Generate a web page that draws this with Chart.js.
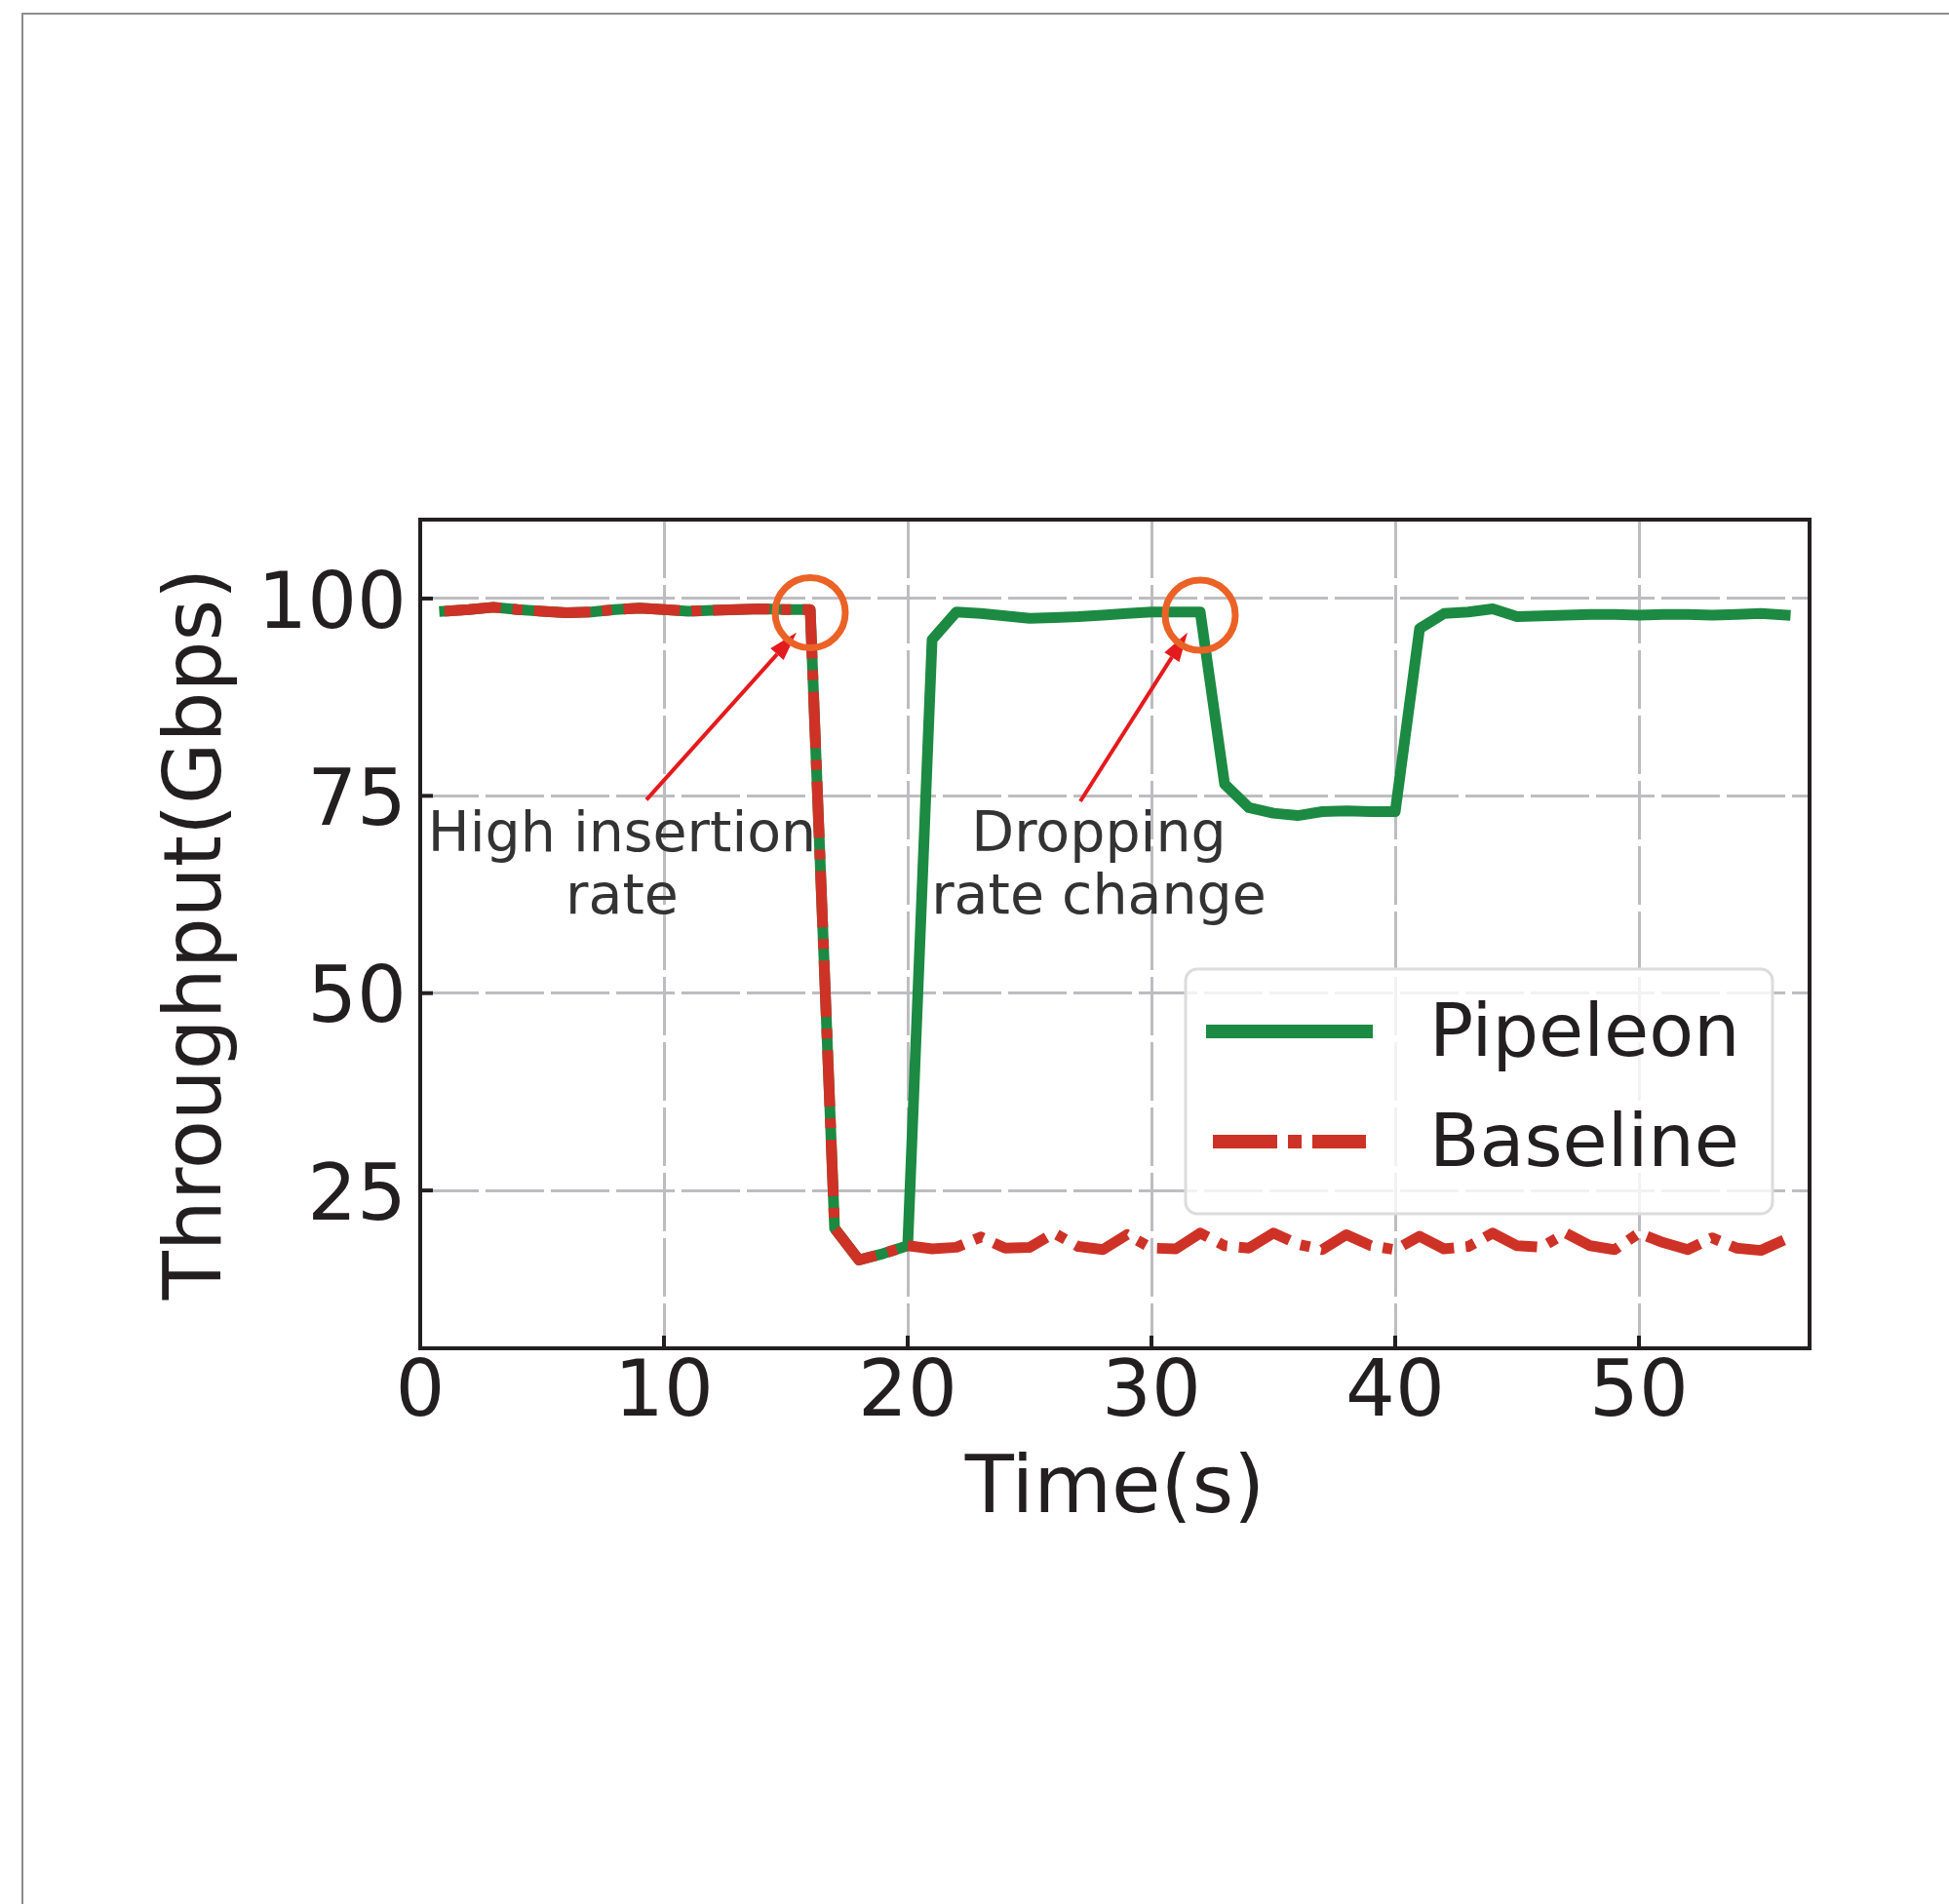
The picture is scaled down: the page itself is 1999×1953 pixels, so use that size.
<!DOCTYPE html>
<html>
<head>
<meta charset="utf-8">
<script src="https://cdn.jsdelivr.net/npm/chart.js@4.4.1/dist/chart.umd.min.js"></script>
<style>
	body { margin: 0; background: #fff; }
	#wrap { position: relative; width: 1999px; height: 1953px; }
	#frame {
		position: absolute; left: 22px; top: 13px; right: 0; bottom: 0;
		border-left: 2px solid #8c8c8c; border-top: 2px solid #8c8c8c;
		pointer-events: none;
	}
</style>
</head>
<body>
<div id="wrap">
	<canvas id="myChart" width="1999" height="1953"></canvas>
	<div id="frame"></div>
</div>
<script>
Chart.defaults.font.family = '"DejaVu Sans", sans-serif'
Chart.defaults.color = '#231f20'

// time axis (s)
const times = [1, 2, 3, 4, 5, 6, 7, 8, 9, 10, 11, 12, 13, 14, 15, 16, 17, 18, 19, 20,
	21, 22, 23, 24, 25, 26, 27, 28, 29, 30, 31, 32, 33, 34, 35, 36, 37, 38, 39, 40,
	41, 42, 43, 44, 45, 46, 47, 48, 49, 50, 51, 52, 53, 54, 55, 56]

// throughput (Gbps)
const pipeleon = [98.4, 98.6, 98.9, 98.6, 98.4, 98.2, 98.3, 98.6, 98.8, 98.6, 98.4, 98.5, 98.6, 98.7, 98.6, 98.6,
	20.2, 16.2, 17.0, 18.0,
	94.8, 98.3, 98.1, 97.8, 97.5, 97.6, 97.7, 97.9, 98.1, 98.3, 98.3, 98.3,
	76.5, 73.5, 72.8, 72.5, 73.0, 73.1, 73.0, 73.0,
	96.2, 98.1, 98.3, 98.7, 97.7, 97.8, 97.9, 98.0, 98.0, 97.9, 98.0, 98.0, 97.9, 98.0, 98.1, 97.9]

const baseline = [98.4, 98.6, 98.9, 98.6, 98.4, 98.2, 98.3, 98.6, 98.8, 98.6, 98.4, 98.5, 98.6, 98.7, 98.6, 98.6,
	20.2, 16.2, 17.0, 18.0,
	17.6, 17.8, 19.1, 17.7, 17.8, 19.6, 17.9, 17.5, 19.4, 17.7, 17.6, 19.6,
	18.0, 17.7, 19.6, 18.2, 17.5, 19.4, 18.0, 17.5, 19.2, 17.6, 17.9, 19.6,
	18.0, 17.8, 19.6, 18.0, 17.5, 19.6, 18.4, 17.5, 19.0, 17.7, 17.4, 18.8]

const xTicks = [0, 10, 20, 30, 40, 50]
const yTicks = [25, 50, 75, 100]

const seriesColors = ['#1c8a42', '#ce3226']

// annotation marks, in data units
const circles = [[16, 98.2], [32, 97.9]]
const arrows = [
	[[9.28, 74.5], [15.44, 95.7]],
	[[27.08, 74.3], [31.48, 95.7]]
]
const notes = [
	{ x: 8.28, y: 68.0, lines: ['High insertion', 'rate'] },
	{ x: 27.84, y: 68.0, lines: ['Dropping', 'rate change'] }
]

const decor = {
	id: 'decor',
	afterDatasetsDraw(chart) {
		const { ctx, scales: { x, y } } = chart
		ctx.save()

		// notes
		ctx.fillStyle = '#333333'
		ctx.font = '57px "DejaVu Sans"'
		ctx.textAlign = 'center'
		ctx.textBaseline = 'alphabetic'
		notes.forEach(n => {
			n.lines.forEach((line, i) => {
				ctx.fillText(line, x.getPixelForValue(n.x), y.getPixelForValue(n.y) + i * 64)
			})
		})

		// arrows
		ctx.strokeStyle = '#e41a1c'
		ctx.fillStyle = '#e41a1c'
		ctx.lineWidth = 4
		arrows.forEach(a => {
			const x1 = x.getPixelForValue(a[0][0]), y1 = y.getPixelForValue(a[0][1])
			const x2 = x.getPixelForValue(a[1][0]), y2 = y.getPixelForValue(a[1][1])
			const ang = Math.atan2(y2 - y1, x2 - x1)
			const hl = 30, hw = 9
			const bx = x2 - hl * Math.cos(ang), by = y2 - hl * Math.sin(ang)
			ctx.beginPath()
			ctx.moveTo(x1, y1)
			ctx.lineTo(bx, by)
			ctx.stroke()
			ctx.beginPath()
			ctx.moveTo(x2, y2)
			ctx.lineTo(bx + hw * Math.sin(ang), by - hw * Math.cos(ang))
			ctx.lineTo(bx - hw * Math.sin(ang), by + hw * Math.cos(ang))
			ctx.closePath()
			ctx.fill()
		})

		// circles
		ctx.strokeStyle = '#eb6226'
		ctx.lineWidth = 7
		circles.forEach(c => {
			ctx.beginPath()
			ctx.arc(x.getPixelForValue(c[0]), y.getPixelForValue(c[1]), 36, 0, Math.PI * 2)
			ctx.stroke()
		})
		ctx.restore()
	},
	afterDraw(chart) {
		const { ctx, chartArea: a, scales: { x, y } } = chart
		ctx.save()

		// inward ticks
		ctx.strokeStyle = '#231f20'
		ctx.lineWidth = 4
		xTicks.forEach(v => {
			const px = x.getPixelForValue(v)
			ctx.beginPath()
			ctx.moveTo(px, a.bottom)
			ctx.lineTo(px, a.bottom - 13)
			ctx.stroke()
		})
		yTicks.forEach(v => {
			const py = y.getPixelForValue(v)
			ctx.beginPath()
			ctx.moveTo(a.left, py)
			ctx.lineTo(a.left + 13, py)
			ctx.stroke()
		})

		// frame
		ctx.strokeRect(a.left, a.top, a.right - a.left, a.bottom - a.top)

		// legend
		const lx = a.right - 640, ly = a.bottom - 389, lw = 602, lh = 251
		ctx.beginPath()
		ctx.roundRect(lx, ly, lw, lh, 12)
		ctx.fillStyle = 'rgba(255, 255, 255, 0.8)'
		ctx.fill()
		ctx.strokeStyle = '#dcdcdc'
		ctx.lineWidth = 3
		ctx.stroke()

		const dashes = [[], [66, 11, 14, 11]]
		const caps = ['square', 'butt']
		chart.data.datasets.forEach((ds, i) => {
			const rowY = ly + 64 + i * 113
			ctx.strokeStyle = seriesColors[i]
			ctx.lineWidth = 14
			ctx.lineCap = caps[i]
			ctx.setLineDash(dashes[i])
			ctx.beginPath()
			ctx.moveTo(lx + 28, rowY)
			ctx.lineTo(lx + 185, rowY)
			ctx.stroke()
			ctx.setLineDash([])
			ctx.fillStyle = '#231f20'
			ctx.font = '75px "DejaVu Sans"'
			ctx.textAlign = 'left'
			ctx.textBaseline = 'alphabetic'
			ctx.fillText(ds.label, lx + 250, rowY + 25)
		})
		ctx.restore()
	}
}

const ctx = document.getElementById('myChart')
var chart = new Chart(ctx, {
	type: 'line',
	data: {
		datasets: [{
			label: 'Pipeleon',
			data: times.map((t, i) => ({ x: t, y: pipeleon[i] })),
			borderColor: seriesColors[0],
			borderWidth: 11,
			borderCapStyle: 'square',
			borderJoinStyle: 'round',
			pointRadius: 0,
			tension: 0,
			fill: false,
			order: 2
		}, {
			label: 'Baseline',
			data: times.map((t, i) => ({ x: t, y: baseline[i] })),
			borderColor: seriesColors[1],
			borderWidth: 11,
			borderDash: [58, 12, 10, 12],
			borderCapStyle: 'butt',
			borderJoinStyle: 'round',
			pointRadius: 0,
			tension: 0,
			fill: false,
			order: 1
		}]
	},
	options: {
		responsive: false,
		animation: false,
		layout: {
			padding: { top: 533, right: 143, left: 0, bottom: 0 }
		},
		plugins: {
			legend: { display: false },
			tooltip: { enabled: false }
		},
		scales: {
			x: {
				type: 'linear',
				min: 0,
				max: 57,
				afterBuildTicks: s => { s.ticks = xTicks.map(v => ({ value: v })) },
				afterFit: s => { s.height = 570 },
				grid: { color: '#bdbdc1', lineWidth: 3, drawTicks: false },
				border: { display: false, dash: [60, 7] },
				ticks: {
					font: { size: 80 },
					color: '#231f20',
					padding: 0,
					maxRotation: 0,
					autoSkip: false
				},
				title: {
					display: true,
					text: 'Time(s)',
					font: { size: 82 },
					color: '#231f20',
					padding: { top: 0, bottom: 374 }
				}
			},
			y: {
				type: 'linear',
				min: 5,
				max: 110,
				afterBuildTicks: s => { s.ticks = yTicks.map(v => ({ value: v })) },
				afterFit: s => { s.width = 431 },
				grid: { color: '#bdbdc1', lineWidth: 3, drawTicks: false },
				border: { display: false, dash: [60, 7] },
				ticks: {
					font: { size: 80 },
					color: '#231f20',
					padding: 14,
					labelOffset: 9
				},
				title: {
					display: true,
					text: 'Throughput(Gbps)',
					font: { size: 82 },
					color: '#231f20',
					padding: { top: 156, bottom: 0 }
				}
			}
		}
	},
	plugins: [decor]
})
</script>
</body>
</html>
